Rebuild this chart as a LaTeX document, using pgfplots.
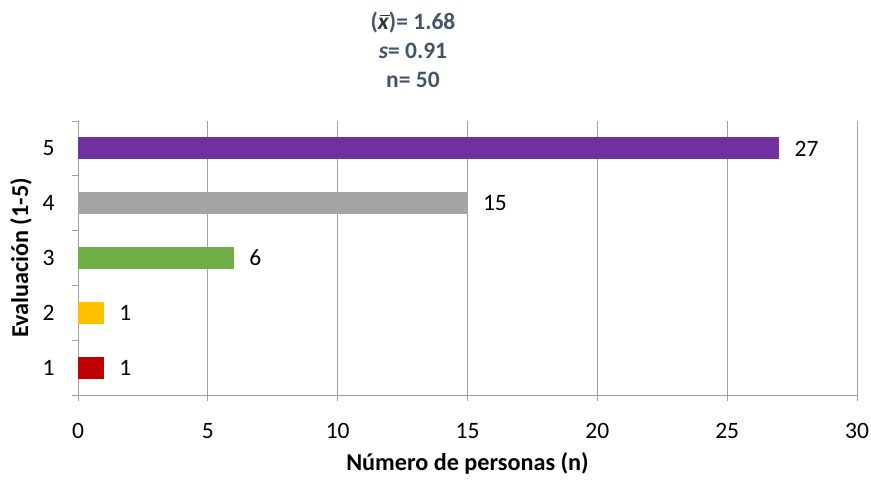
\documentclass[border=0pt]{standalone}
\usepackage{pgfplots}
\pgfplotsset{compat=1.18}
\usepackage{fontspec}
\setmainfont{Carlito}
\definecolor{cpurple}{HTML}{7030A0}
\definecolor{cgray}{HTML}{A5A5A5}
\definecolor{cgreen}{HTML}{70AD47}
\definecolor{cyellow}{HTML}{FFC000}
\definecolor{cred}{HTML}{C00000}
\definecolor{ctitle}{HTML}{44546A}
\definecolor{caxis}{HTML}{A0A0A0}
\begin{document}
\begin{tikzpicture}[x=1pt,y=1pt]
\begin{axis}[
  scale only axis,
  width=779pt, height=274pt,
  xmin=0, xmax=30, ymin=0.5, ymax=5.5,
  xtick={0,5,...,30},
  ytick={1,2,3,4,5},
  minor ytick={0.5,1.5,...,5.5},
  major tick length=0pt,
  minor tick length=6pt,
  tick align=outside,
  extra x ticks={0,5,...,30},
  extra x tick labels={},
  extra x tick style={major tick length=6pt, grid=none},
  xmajorgrids,
  grid style={caxis, line width=0.8pt},
  axis line style={caxis, line width=0.8pt},
  tick style={caxis, line width=0.8pt},
  axis x line*=bottom,
  axis y line*=left,
  ticklabel style={font=\fontsize{23.5}{26}\selectfont, text=black},
  /pgf/number format/assume math mode=true,
  xticklabel style={yshift=-25pt},
  yticklabel style={xshift=-20pt},
  xlabel={\textbf{Número de personas (n)}},
  ylabel={\textbf{Evaluación (1-5)}},
  label style={font=\fontsize{24.2}{26}\selectfont},
  xlabel style={yshift=-1pt},
  ylabel style={yshift=4pt},
  xbar, bar width=22pt, bar shift=0pt,
  nodes near coords,
  nodes near coords style={font=\fontsize{23.5}{26}\selectfont, anchor=west, xshift=12pt, text=black},
  clip=false,
]
\addplot[fill=cred, draw=none] coordinates {(1,1)};
\addplot[fill=cyellow, draw=none] coordinates {(1,2)};
\addplot[fill=cgreen, draw=none] coordinates {(6,3)};
\addplot[fill=cgray, draw=none] coordinates {(15,4)};
\addplot[fill=cpurple, draw=none] coordinates {(27,5)};
\node[anchor=south, align=center, text=ctitle, font=\fontsize{23.5}{29}\selectfont\bfseries] at (rel axis cs:0.43,1) [yshift=30pt]
  {({\color{black!80}\makebox[0pt][l]{\hspace{2.2pt}\rule[0.56em]{0.42em}{1.3pt}}\textit{x}})= 1.68\\\textit{s}= 0.91\\n= 50};
\coordinate (bl) at (rel axis cs:0,0);
\coordinate (tr) at (rel axis cs:1,1);
\end{axis}
\pgfresetboundingbox
\path[use as bounding box] ([shift={(-78pt,-85pt)}]bl) rectangle ([shift={(14pt,121pt)}]tr);
\end{tikzpicture}
\end{document}
